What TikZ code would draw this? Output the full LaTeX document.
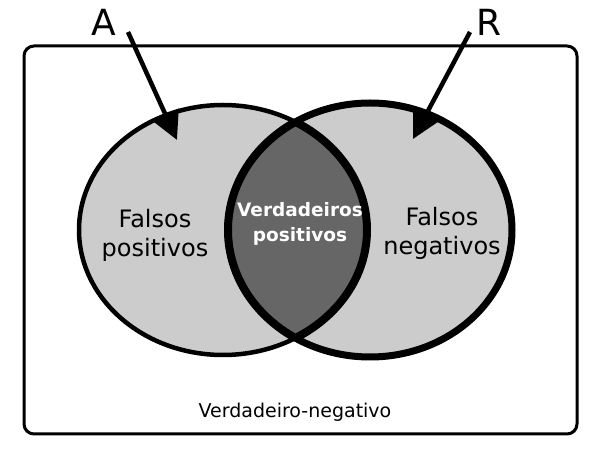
\documentclass[tikz,border=0pt]{standalone}
\usepackage{fontspec}
\setmainfont{DejaVu Sans}
\usetikzlibrary{arrows.meta}
\tikzset{
  frame/.style  = {draw, line width=3pt, rounded corners=10pt},
  setfill/.style= {fill=black!20},
  lensfill/.style={fill=black!60},
  lbl/.style    = {align=center, font=\fontsize{24}{29}\selectfont},
  inlbl/.style  = {align=center, text=white, font=\bfseries\fontsize{18.5}{25}\selectfont},
  big/.style    = {font=\fontsize{36}{40}\selectfont, inner sep=0pt},
  ar/.style     = {-{Triangle[length=28pt, width=28pt]}, line width=4.5pt},
}
\begin{document}
\begin{tikzpicture}[x=1pt, y=-1pt]
  \useasboundingbox (0,0) rectangle (590,454);
  \draw[frame] (24,46) rectangle (577,434);
  % the two sets
  \fill[setfill] (223,230) ellipse [x radius=144, y radius=125];
  \fill[setfill] (370,230) ellipse [x radius=142, y radius=127];
  \begin{scope}
    \clip (223,230) ellipse [x radius=144, y radius=125];
    \fill[lensfill] (370,230) ellipse [x radius=142, y radius=127];
    \draw[line width=8pt] (370,230) ellipse [x radius=142, y radius=127];
  \end{scope}
  \begin{scope}
    \clip (370,230) ellipse [x radius=142, y radius=127];
    \draw[line width=8pt] (223,230) ellipse [x radius=144, y radius=125];
  \end{scope}
  \draw[line width=4.5pt] (223,230) ellipse [x radius=144, y radius=125];
  \draw[line width=7pt] (370,230) ellipse [x radius=142, y radius=127];
  % texts
  \node[lbl] (fp) at (155,235) {Falsos\\positivos};
  \node[inlbl] (vp) at (300,224) {Verdadeiros\\positivos};
  \node[lbl] (fn) at (442,233) {Falsos\\negativos};
  \node[font=\fontsize{19}{23}\selectfont] (vn) at (295,412) {Verdadeiro-negativo};
  \node[big] (setA) at (104,22) {A};
  \node[big] (setR) at (489,22) {R};
  % arrows
  \coordinate (tailA) at (128,32);
  \coordinate (tipA) at (177,140);
  \coordinate (tailR) at (470,32);
  \coordinate (tipR) at (413,139);
  \draw[ar] (tailA) -- (tipA);
  \draw[ar] (tailR) -- (tipR);
\end{tikzpicture}
\end{document}
